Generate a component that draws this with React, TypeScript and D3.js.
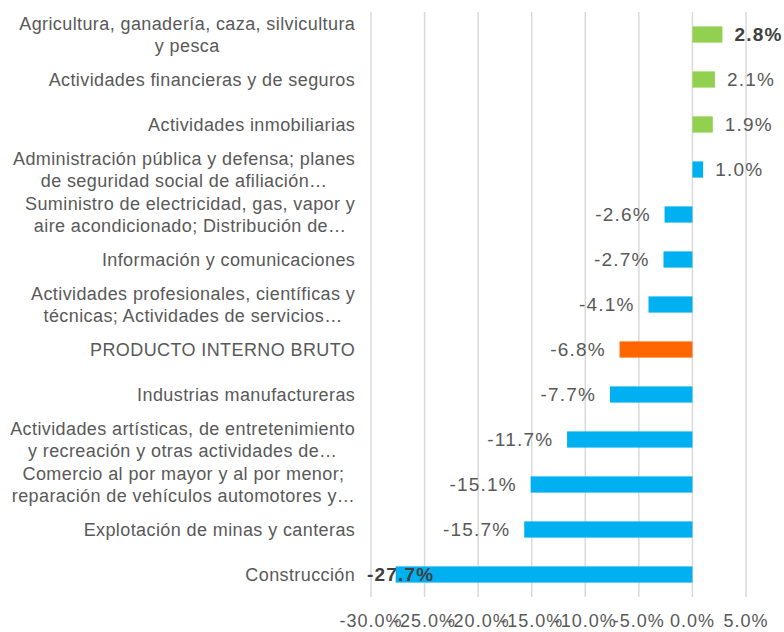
import React, { useMemo } from "react";
import * as d3 from "d3";

const categories: string[][] = [
  ["Agricultura, ganadería, caza, silvicultura", "y pesca"],
  ["Actividades financieras y de seguros"],
  ["Actividades inmobiliarias"],
  ["Administración pública y defensa; planes", "de seguridad social de afiliación…"],
  ["Suministro de electricidad, gas, vapor y", "aire acondicionado; Distribución de…"],
  ["Información y comunicaciones"],
  ["Actividades profesionales, científicas y", "técnicas; Actividades de servicios…"],
  ["PRODUCTO INTERNO BRUTO"],
  ["Industrias manufactureras"],
  ["Actividades artísticas, de entretenimiento", "y recreación y otras actividades de…"],
  ["Comercio al por mayor y al por menor;", "reparación de vehículos automotores y…"],
  ["Explotación de minas y canteras"],
  ["Construcción"],
];
const values: number[] = [2.8, 2.1, 1.9, 1.0, -2.6, -2.7, -4.1, -6.8, -7.7, -11.7, -15.1, -15.7, -27.7];
const colorGroups: string[] = ["pos", "pos", "pos", "neg", "neg", "neg", "neg", "total", "neg", "neg", "neg", "neg", "neg"];
const boldLabels: boolean[] = [true, false, false, false, false, false, false, false, false, false, false, false, true];
const ticks: number[] = [-30, -25, -20, -15, -10, -5, 0, 5];

const W = 784;
const H = 632;
const FONT = "'Liberation Sans', Arial, sans-serif";
const palette: Record<string, string> = { pos: "#92d050", neg: "#00b0f0", total: "#ff6600" };

export default function App() {
  const x = d3.scaleLinear().domain([-30, 5]).range([371, 746]);
  const y = d3.scaleBand<number>().domain(d3.range(categories.length)).range([12, 597]).paddingInner(0.64).paddingOuter(0.32);
  const fmt = (v: number) => v.toFixed(1) + "%";

  const catSize = 18;
  const catLS = 0.4;
  const valSize = 19;
  const valLS = 1.2;
  const tickSize = 18;
  const tickLS = 1;
  const lineH = 22;
  const labelRight = 355;

  const measure = useMemo(() => {
    const c = document.createElement("canvas").getContext("2d")!;
    return (t: string, size: number, ls: number, bold = false) => {
      c.font = `${bold ? "bold " : ""}${size}px 'Liberation Sans', Arial, sans-serif`;
      return c.measureText(t).width + ls * Math.max(0, t.length - 1);
    };
  }, []);

  return (
    <svg width={W} height={H} style={{ position: "absolute", left: 0, top: 0, background: "#fff" }} fontFamily={FONT}>
      {ticks.map((t) => (
        <line key={"g" + t} x1={x(t)} x2={x(t)} y1={12} y2={597} stroke="#d9d9d9" strokeWidth={1.5} />
      ))}
      {values.map((v, i) => {
        const y0 = y(i)!;
        const bw = y.bandwidth();
        const x0 = x(Math.min(0, v));
        const x1 = x(Math.max(0, v));
        return <rect key={"b" + i} x={x0} y={y0} width={x1 - x0} height={bw} fill={palette[colorGroups[i]]} />;
      })}
      {values.map((v, i) => {
        const cy = y(i)! + y.bandwidth() / 2;
        const txt = fmt(v);
        const bold = boldLabels[i];
        const tw = measure(txt, valSize, valLS, bold);
        let tx: number;
        if (v >= 0) tx = x(v) + 12;
        else tx = Math.max(x(v) - 15 - tw, x(-30) - 4);
        return (
          <text key={"v" + i} x={tx} y={cy} dy="0.35em" fontSize={valSize} letterSpacing={valLS} fontWeight={bold ? "bold" : "normal"} fill={bold ? "#404040" : "#595959"}>
            {txt}
          </text>
        );
      })}
      {categories.map((lines, i) => {
        const cy = y(i)! + y.bandwidth() / 2;
        const bw = Math.max(...lines.map((l) => measure(l, catSize, catLS)));
        const cx = labelRight - bw / 2;
        const startY = cy - ((lines.length - 1) * lineH) / 2;
        return (
          <text key={"c" + i} fontSize={catSize} letterSpacing={catLS} fill="#595959" textAnchor="middle">
            {lines.map((l, j) => (
              <tspan key={j} x={cx} y={startY + j * lineH} dy="0.35em">
                {l}
              </tspan>
            ))}
          </text>
        );
      })}
      {ticks.map((t) => (
        <text key={"t" + t} x={x(t)} y={621} dy="0.35em" textAnchor="middle" fontSize={tickSize} letterSpacing={tickLS} fill="#595959">
          {fmt(t)}
        </text>
      ))}
    </svg>
  );
}
